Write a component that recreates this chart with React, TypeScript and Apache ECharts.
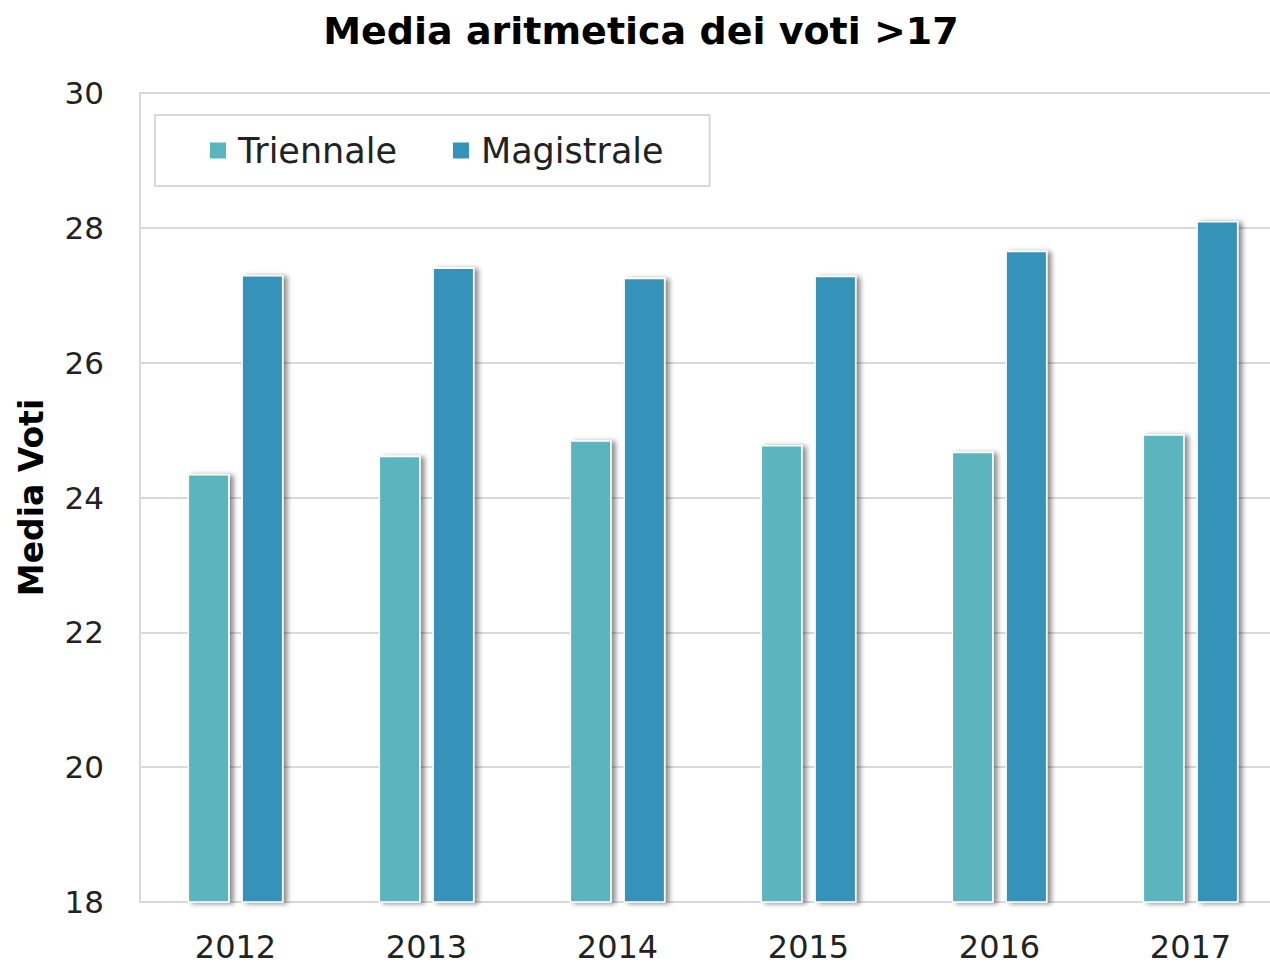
import React, { useEffect, useRef } from "react";
import * as echarts from "echarts";

const years = ["2012", "2013", "2014", "2015", "2016", "2017"];
const triennale = [24.35, 24.62, 24.85, 24.78, 24.68, 24.94];
const magistrale = [27.3, 27.41, 27.26, 27.29, 27.66, 28.1];
const yTicks = { min: 18, max: 30, interval: 2 };

export default function App() {
  const ref = useRef<HTMLDivElement>(null);
  useEffect(() => {
    document.body.style.margin = "0";
    const chart = echarts.init(ref.current!, null, { renderer: "svg" });
    const font = "'DejaVu Sans', sans-serif";
    const shadow = {
      shadowBlur: 5,
      shadowColor: "rgba(0,0,0,0.45)",
      shadowOffsetX: 4,
      shadowOffsetY: 1,
      borderColor: "#ffffff",
      borderWidth: 1.5,
    };
    chart.setOption({
      animation: false,
      backgroundColor: "#ffffff",
      textStyle: { fontFamily: font },
      title: {
        text: "Media aritmetica dei voti >17",
        left: 636,
        textAlign: "center",
        top: 7,
        textStyle: { fontSize: 38, fontWeight: "bold", color: "#000", fontFamily: font },
      },
      legend: {
        left: 155,
        top: 115,
        width: 560,
        height: 73,
        padding: [18, 46, 18, 53],
        itemGap: 54,
        itemWidth: 18,
        itemHeight: 18,
        borderColor: "#d9d9d9",
        borderWidth: 2,
        icon: "rect",
        textStyle: { fontSize: 35, color: "#222", fontFamily: font, padding: [0, 0, 0, 6] },
        data: ["Triennale", "Magistrale"],
      },
      grid: {
        left: 140,
        right: -16,
        top: 93,
        bottom: 65,
        outerBoundsMode: "none",
        show: true,
        borderColor: "#d9d9d9",
        borderWidth: 2,
      },
      xAxis: {
        type: "category",
        data: years,
        axisLine: { lineStyle: { color: "#d9d9d9", width: 2 } },
        axisTick: { show: false },
        axisLabel: { fontSize: 32, color: "#222", margin: 29, fontFamily: font },
      },
      yAxis: {
        type: "value",
        min: yTicks.min,
        max: yTicks.max,
        interval: yTicks.interval,
        name: "Media Voti",
        nameLocation: "middle",
        nameGap: 92,
        nameTextStyle: { fontSize: 33, fontWeight: "bold", color: "#000", fontFamily: font },
        axisLine: { show: false },
        axisTick: { show: false },
        axisLabel: { fontSize: 31, color: "#222", margin: 36, fontFamily: font },
        splitLine: { lineStyle: { color: "#d9d9d9", width: 2 } },
      },
      series: [
        {
          name: "Triennale",
          type: "bar",
          data: triennale,
          barWidth: "22%",
          barGap: "28%",
          itemStyle: { color: "#5ab5bf", ...shadow },
        },
        {
          name: "Magistrale",
          type: "bar",
          data: magistrale,
          barWidth: "22%",
          barGap: "28%",
          itemStyle: { color: "#3592b8", ...shadow },
        },
      ],
    });
    return () => chart.dispose();
  }, []);
  return (
    <div
      ref={ref}
      style={{ position: "absolute", left: 0, top: 0, width: 1270, height: 967 }}
    />
  );
}
